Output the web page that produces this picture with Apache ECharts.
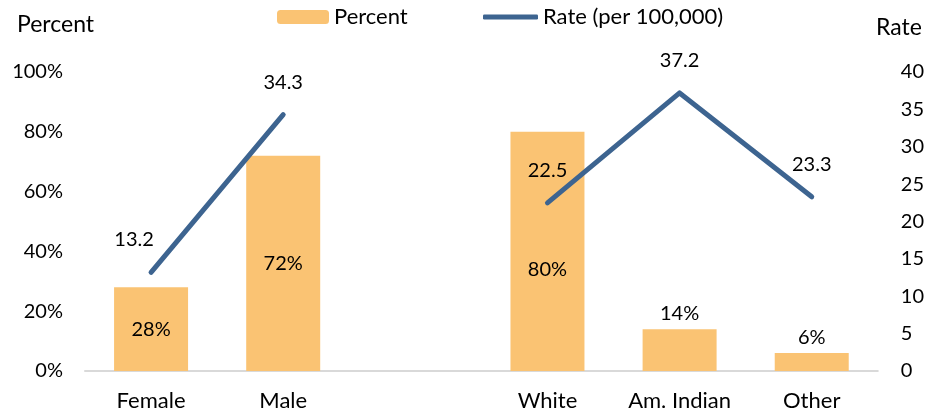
<!DOCTYPE html>
<html>
<head>
<meta charset="utf-8">
<script src="https://cdn.jsdelivr.net/npm/echarts@6/dist/echarts.min.js"></script>
<style>html,body{margin:0;padding:0;background:#fff;}#c{width:927px;height:412px;}</style>
</head>
<body>
<div id="c"></div>
<script>
var categories = ['Female', 'Male', '', 'White', 'Am. Indian', 'Other'];
var percentValues = [28, 72, null, 80, 14, 6];
var rateValues = [13.2, 34.3, null, 22.5, 37.2, 23.3];
var percentTicks = [0, 20, 40, 60, 80, 100];
var rateTicks = [0, 5, 10, 15, 20, 25, 30, 35, 40];

var FONT = 'Lato';
var barColor = '#FAC373';
var lineColor = '#3D6490';

var barData = percentValues.map(function (v, i) {
  var item = { value: v };
  if (v !== null && v < 20) {
    item.label = { position: 'top', distance: 6 };
  } else if (i === 3) {
    item.label = { position: 'inside', offset: [0, 18] };
  }
  return item;
});
var lineData = rateValues.map(function (v, i) {
  var item = { value: v };
  if (i === 0) item.label = { offset: [-17, 0] };
  return item;
});

var chart = echarts.init(document.getElementById('c'), null, { renderer: 'canvas' });
chart.setOption({
  animation: false,
  textStyle: { fontFamily: FONT },
  title: [
    { text: 'Percent', left: 12, top: 8, textStyle: { fontFamily: FONT, fontSize: 23, fontWeight: 'normal', color: '#000' } },
    { text: 'Rate', left: 871, top: 11, textStyle: { fontFamily: FONT, fontSize: 23, fontWeight: 'normal', color: '#000' } }
  ],
  legend: [
    { data: ['Percent'], left: 277, top: 6, padding: 0, itemWidth: 52, itemHeight: 14, itemGap: 6,
      textStyle: { fontFamily: FONT, fontSize: 22, color: '#000' } },
    { data: [{ name: 'Rate (per 100,000)', icon: 'roundRect', itemStyle: { color: lineColor } }], left: 483, top: 6, padding: 0, itemWidth: 55, itemHeight: 5, itemGap: 4,
      textStyle: { fontFamily: FONT, fontSize: 22, color: '#000' } }
  ],
  grid: { left: 85, right: 47, top: 72, bottom: 40, containLabel: false },
  xAxis: {
    type: 'category', data: categories,
    axisLine: { lineStyle: { color: '#D9D9D9', width: 2 } },
    axisTick: { show: false },
    axisLabel: { color: '#000', fontSize: 22, fontFamily: FONT, margin: 19, interval: 0 }
  },
  yAxis: [
    { type: 'value', min: 0, max: 100, interval: 20,
      splitLine: { show: false }, axisLine: { show: false }, axisTick: { show: false },
      axisLabel: { color: '#000', fontSize: 20, fontFamily: FONT, margin: 22, formatter: '{value}%' } },
    { type: 'value', min: 0, max: 40, interval: 5,
      splitLine: { show: false }, axisLine: { show: false }, axisTick: { show: false },
      axisLabel: { color: '#000', fontSize: 20, fontFamily: FONT, margin: 23, align: 'left' } }
  ],
  series: [
    { name: 'Percent', type: 'bar', data: barData, barWidth: 74, yAxisIndex: 0,
      itemStyle: { color: barColor },
      label: { show: true, position: 'inside', color: '#000', fontSize: 20, fontFamily: FONT, formatter: '{c}%' } },
    { name: 'Rate (per 100,000)', type: 'line', data: lineData, yAxisIndex: 1,
      connectNulls: false, symbol: 'circle', symbolSize: 1, showSymbol: true,
      lineStyle: { color: lineColor, width: 5, cap: 'round', join: 'round' },
      itemStyle: { color: lineColor },
      label: { show: true, position: 'top', distance: 22, color: '#000', fontSize: 20, fontFamily: FONT } }
  ]
});
</script>
</body>
</html>
